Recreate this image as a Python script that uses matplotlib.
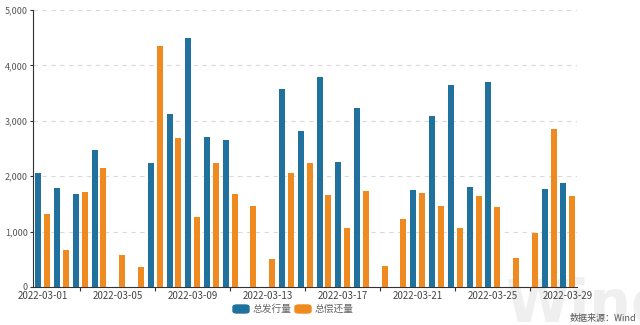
"""
bond issuance vs repayment, March 2022 (daily bars)
"""

import matplotlib
matplotlib.use("Agg")
import matplotlib.pyplot as plt
from matplotlib.patches import FancyBboxPatch
import numpy as np

plt.rcParams['font.family'] = ['Noto Sans CJK SC', 'DejaVu Sans']

# one category per calendar day
dates = [f"2022-03-{d:02d}" for d in range(1, 30)]

# 总发行量 (0 on weekends)
issued = [2050, 1780, 1675, 2480, 0, 0, 2240, 3120, 4495, 2710,
          2655, 0, 0, 3570, 2820, 3790, 2260, 3235, 0, 0,
          1760, 3080, 3650, 1805, 3700, 0, 0, 1775, 1875]

# 总偿还量
repaid = [1325, 675, 1715, 2145, 585, 365, 4350, 2695, 1255, 2235,
          1680, 1465, 510, 2060, 2230, 1655, 1070, 1730, 380, 1225,
          1705, 1470, 1070, 1635, 1440, 520, 970, 2855, 1635]

series_names = ["总发行量", "总偿还量"]
blue = "#21719e"
orange = "#ef8a20"

fig = plt.figure(figsize=(6.4, 3.25), dpi=100)
ax = fig.add_axes([0.052, 0.117, 0.850, 0.852])
ax.patch.set_alpha(0)

x = np.arange(len(dates))
w = 0.32
off = 0.235
ax.bar(x - off, issued, w, color=blue, zorder=3)
ax.bar(x + off, repaid, w, color=orange, zorder=3)

ax.set_xlim(-0.5, len(dates) - 0.5)
ax.set_ylim(0, 5000)
ax.set_yticks(range(0, 5001, 1000))
ax.set_yticklabels([f"{v:,}" for v in range(0, 5001, 1000)])
ax.yaxis.grid(True, linestyle=(0, (4, 4)), color="#d9d9d9", linewidth=0.8, zorder=0)

# labels every 4th day, small ticks half way between them
ax.set_xticks(x[::4])
ax.set_xticklabels(dates[::4])
ax.set_xticks(x[2::4], minor=True)
ax.tick_params(axis="x", which="major", length=0, pad=3, labelsize=7, labelcolor="#444444")
ax.tick_params(axis="x", which="minor", length=3, color="#333333", width=0.8)
ax.tick_params(axis="y", length=2, width=0.8, color="#333333", pad=2, labelsize=6.5,
               labelcolor="#555555")

for s in ["top", "right"]:
    ax.spines[s].set_visible(False)
ax.spines["left"].set_color("#333333")
ax.spines["bottom"].set_color("#333333")
ax.spines["left"].set_linewidth(0.8)
ax.spines["bottom"].set_linewidth(0.8)

# faint watermark behind everything
ax.text(505 / 640, 0.008, "Wind", fontsize=42, fontweight="bold", color="#efefef",
        ha="left", va="baseline", family="DejaVu Sans", transform=fig.transFigure,
        zorder=0, clip_on=False)

# legend drawn by hand to get the rounded swatches
for (x0, name, col) in [(233, series_names[0], blue), (295, series_names[1], orange)]:
    patch = FancyBboxPatch((x0 / 640, 1 - 313 / 325), 16 / 640, 8 / 325,
                           boxstyle="round,pad=0,rounding_size=0.006",
                           transform=fig.transFigure, color=col, zorder=5)
    fig.patches.append(patch)
    fig.text((x0 + 20) / 640, 1 - 308.5 / 325, name, fontsize=7, color="#666666",
             ha="left", va="center")

fig.text(0.994, 1 - 318 / 325, "数据来源：Wind", fontsize=6.5, color="#555555",
         ha="right", va="center")

fig.savefig("out.png", dpi=100)
